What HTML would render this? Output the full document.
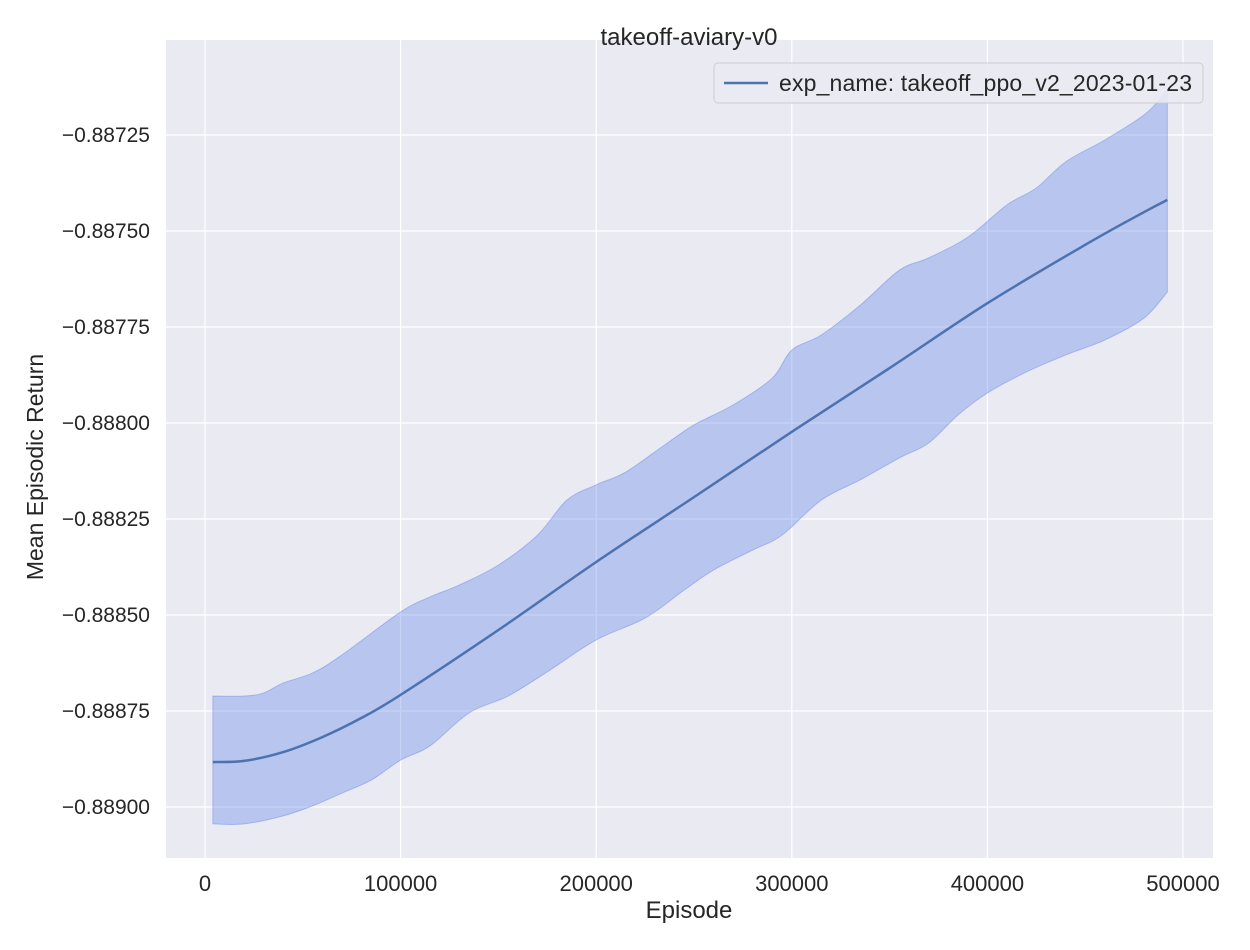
<!DOCTYPE html>
<html><head><meta charset="utf-8"><style>
body{margin:0;background:#fff;}
svg{display:block;font-family:"Liberation Sans","DejaVu Sans",sans-serif;}
</style></head><body>
<svg id="chart" width="1250" height="950" xmlns="http://www.w3.org/2000/svg">
<rect x="166" y="40" width="1047" height="818" fill="#eaeaf2"/>
<g id="grid"></g><g id="series"></g><g id="ticks"></g>
<text x="689" y="45" text-anchor="middle" font-size="24" fill="#262626">takeoff-aviary-v0</text>
<text x="689" y="918" text-anchor="middle" font-size="24" fill="#262626">Episode</text>
<text transform="translate(43,467) rotate(-90)" text-anchor="middle" font-size="23" fill="#262626">Mean Episodic Return</text>
<g>
<rect x="714" y="63" width="489" height="40" rx="4" fill="#eaeaf2" stroke="#cccccc" opacity="0.9"/>
<line x1="724" y1="83" x2="768" y2="83" stroke="#4c72b0" stroke-width="2.5"/>
<text x="779" y="91" font-size="23" fill="#262626" textLength="413">exp_name: takeoff_ppo_v2_2023-01-23</text>
</g>
</svg>
<script>
const xTicks=[0,100000,200000,300000,400000,500000];
const yTicks=[-0.88725,-0.88750,-0.88775,-0.88800,-0.88825,-0.88850,-0.88875,-0.88900];
const meanX=[4000,20000,40000,60000,80000,100000,150000,200000,250000,300000,350000,400000,450000,480000,492000];
const meanY=[-0.888883,-0.888880,-0.888857,-0.888818,-0.888768,-0.888708,-0.888539,-0.888362,-0.888193,-0.888023,-0.887857,-0.887688,-0.887536,-0.887451,-0.887419];
const upperX=[4000,20000,30000,40000,55000,70000,100000,115000,130000,150000,170000,185000,200000,215000,235000,250000,270000,290000,300000,315000,335000,355000,370000,390000,410000,425000,440000,460000,480000,490000,492000];
const upperY=[-0.888711,-0.888711,-0.888703,-0.888677,-0.888651,-0.888604,-0.888492,-0.888453,-0.888422,-0.888370,-0.888292,-0.888201,-0.888161,-0.888128,-0.888057,-0.888005,-0.887953,-0.887883,-0.887810,-0.887771,-0.887693,-0.887602,-0.887570,-0.887516,-0.887432,-0.887388,-0.887320,-0.887263,-0.887198,-0.887146,-0.887133];
const lowerX=[4000,20000,40000,55000,70000,85000,100000,115000,135000,155000,175000,200000,225000,245000,260000,280000,295000,315000,335000,355000,370000,385000,400000,420000,440000,460000,480000,492000];
const lowerY=[-0.889044,-0.889044,-0.889023,-0.888997,-0.888964,-0.888930,-0.888878,-0.888841,-0.888755,-0.888711,-0.888648,-0.888565,-0.888508,-0.888435,-0.888383,-0.888331,-0.888292,-0.888201,-0.888148,-0.888091,-0.888052,-0.887979,-0.887922,-0.887867,-0.887823,-0.887784,-0.887727,-0.887659];
const NS="http://www.w3.org/2000/svg";
const sx=v=>205+v*0.001956;
const sy=v=>135+(-0.88725-v)/0.00025*96;
function mk(t,a,p){const e=document.createElementNS(NS,t);for(const k in a)e.setAttribute(k,a[k]);p.appendChild(e);return e;}
function smooth(P,start){
 let d=start?('M'+P[0][0]+','+P[0][1]):('L'+P[0][0]+','+P[0][1]);
 for(let i=0;i<P.length-1;i++){
  const p0=P[Math.max(i-1,0)],p1=P[i],p2=P[i+1],p3=P[Math.min(i+2,P.length-1)];
  const c1=[p1[0]+(p2[0]-p0[0])/6,p1[1]+(p2[1]-p0[1])/6];
  const c2=[p2[0]-(p3[0]-p1[0])/6,p2[1]-(p3[1]-p1[1])/6];
  d+=' C'+c1[0]+','+c1[1]+' '+c2[0]+','+c2[1]+' '+p2[0]+','+p2[1];
 }
 return d;
}
const grid=document.getElementById('grid'),ticks=document.getElementById('ticks'),series=document.getElementById('series');
xTicks.forEach(t=>{
 const l=mk('line',{x1:sx(t),x2:sx(t),y1:40,y2:858,stroke:'#fff','stroke-width':1.2},grid);
 
 
 const s=mk('text',{x:sx(t),y:891,'text-anchor':'middle','font-size':22,fill:'#262626'},ticks);
 s.textContent=String(t);
 
 
});
yTicks.forEach(t=>{
 const l=mk('line',{x1:166,x2:1213,y1:sy(t),y2:sy(t),stroke:'#fff','stroke-width':1.2},grid);
 
 
 const s=mk('text',{x:150,y:sy(t)+7,'text-anchor':'end','font-size':21,fill:'#262626'},ticks);
 s.textContent='\u2212'+Math.abs(t).toFixed(5);
 
 
});
const up=upperX.map((x,i)=>[sx(x),sy(upperY[i])]);
const lo=lowerX.map((x,i)=>[sx(x),sy(lowerY[i])]).reverse();
const d=smooth(up,true)+' '+smooth(lo,false)+' Z';
const band=mk('path',{d:d,fill:'#5b80e8','fill-opacity':0.35,stroke:'#5b80e8','stroke-opacity':0.4},series);


const mp=meanX.map((x,i)=>[sx(x),sy(meanY[i])]);
const line=mk('path',{d:smooth(mp,true),fill:'none',stroke:'#4c72b0','stroke-width':2.5,'stroke-linejoin':'round'},series);


</script>
</body></html>
